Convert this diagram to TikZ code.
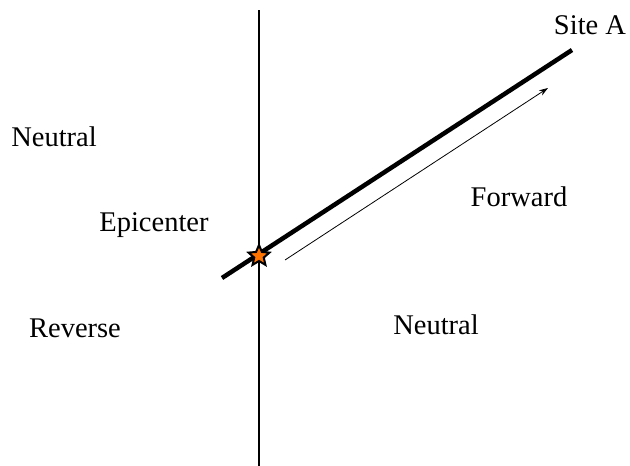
\documentclass[tikz,border=0pt]{standalone}
\usepackage{fontspec}
\setmainfont{Liberation Serif}
\usetikzlibrary{shapes.geometric,arrows.meta}
\begin{document}
\begin{tikzpicture}[x=1pt,y=-1pt,
  lbl/.style={font=\fontsize{28.5}{30}\selectfont, inner sep=0pt},
  fault/.style={line width=4.5pt},
  thinarrow/.style={line width=0.8pt,-{Stealth[length=9pt,width=6pt]}}]
\useasboundingbox (0,0) rectangle (630,466);
\coordinate (vtop) at (259,10);
\coordinate (vbot) at (259,466);
\draw[line width=1.4pt] (vtop) -- (vbot);
\coordinate (fs) at (222,278);
\coordinate (fe) at (572,50);
\draw[fault] (fs) -- (fe);
\node[star, star points=5, star point ratio=2.2, minimum size=22pt, inner sep=0pt, fill=orange!90!red, draw=black, line width=2pt] (epi) at (259,256) {};
\coordinate (as) at (285,260);
\coordinate (ae) at (548,88);
\draw[thinarrow] (as) -- (ae);
\node[lbl] (site) at (590,25) {Site A};
\node[lbl] (n1) at (54,137) {Neutral};
\node[lbl] (ep) at (154,225) {Epicenter};
\node[lbl] (fw) at (519,197) {Forward};
\node[lbl] (rv) at (75,328) {Reverse};
\node[lbl] (n2) at (436,325) {Neutral};
\end{tikzpicture}
\end{document}
